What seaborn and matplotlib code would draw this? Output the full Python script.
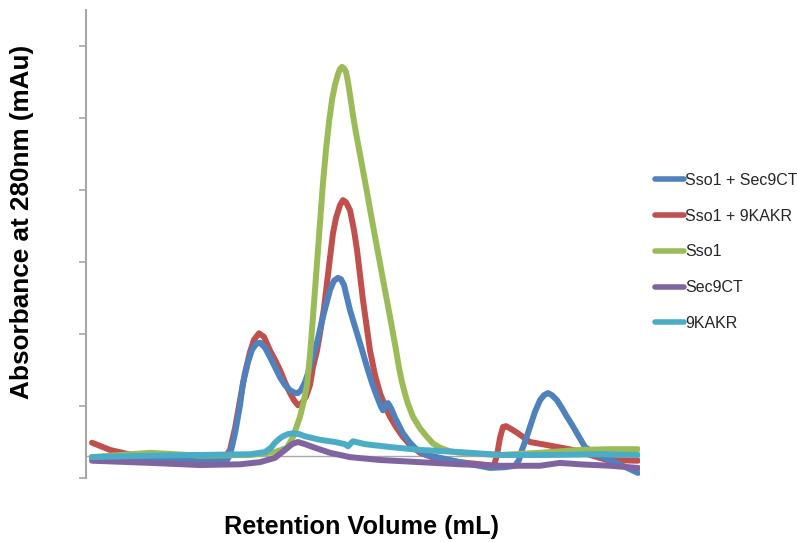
import numpy as np
import pandas as pd
import matplotlib
matplotlib.use("Agg")
import matplotlib.pyplot as plt
from matplotlib.lines import Line2D
import seaborn as sns

# ---- data (retention volume in mL, absorbance in mAu) ----
series_names = ["Sso1 + Sec9CT", "Sso1 + 9KAKR", "Sso1", "Sec9CT", "9KAKR"]

blue_x = [0.24, 2.56, 4.56, 5.36, 5.60, 5.76, 5.96, 6.16, 6.28, 6.48,
          6.64, 6.80, 6.96, 7.16, 7.36, 7.56, 7.76, 7.96, 8.16, 8.36,
          8.48, 8.60, 8.76, 8.96, 9.24, 9.48, 9.76, 9.92, 10.08, 10.20,
          10.32, 10.56, 10.84, 11.04, 11.24, 11.44, 11.64, 11.80, 11.88, 12.00,
          12.08, 12.20, 12.36, 12.68, 12.96, 13.24, 13.64, 14.04, 14.96, 15.56,
          16.16, 16.76, 17.16, 17.32, 17.44, 17.60, 17.76, 17.96, 18.16, 18.32,
          18.48, 18.64, 18.84, 19.04, 19.24, 19.44, 19.64, 19.96, 20.44, 21.16,
          22.08]
blue_y = [-1, -2, -4, -5, -8, 2, 32, 71, 102, 131,
          148, 156, 158, 151, 138, 124, 110, 99, 92, 88,
          88, 92, 103, 124, 158, 194, 231, 244, 248, 246,
          238, 203, 171, 148, 124, 102, 83, 69, 64, 73,
          74, 67, 54, 32, 19, 9, 2, -1, -8, -12,
          -16, -15, -13, -5, 9, 24, 41, 62, 78, 85,
          88, 85, 78, 67, 55, 44, 32, 13, 2, -8,
          -23]

red_x = [0.24, 0.96, 1.84, 3.36, 4.96, 5.36, 5.56, 5.76, 5.96, 6.16,
         6.36, 6.56, 6.72, 6.92, 7.12, 7.36, 7.56, 7.76, 7.96, 8.16,
         8.32, 8.48, 8.64, 8.80, 8.96, 9.08, 9.24, 9.36, 9.52, 9.64,
         9.76, 9.88, 10.00, 10.16, 10.28, 10.40, 10.56, 10.72, 10.84, 11.08,
         11.36, 11.56, 11.76, 11.96, 12.16, 12.40, 12.68, 12.96, 13.36, 14.16,
         14.96, 16.32, 16.44, 16.56, 16.68, 16.80, 16.96, 17.24, 17.76, 18.56,
         19.48, 20.16, 20.84, 22.08]
red_y = [19, 9, 2, -2, -6, -5, -1, 9, 39, 78,
         116, 145, 162, 171, 166, 147, 134, 120, 103, 88,
         78, 71, 74, 83, 99, 124, 147, 171, 206, 241,
         276, 310, 331, 349, 356, 353, 342, 314, 287, 217,
         147, 113, 88, 70, 55, 41, 27, 16, 5, -5,
         -8, -13, 2, 26, 41, 42, 39, 33, 20, 15,
         9, 2, -5, -6]

green_x = [0.24, 2.56, 4.56, 6.56, 7.56, 8.04, 8.28, 8.56, 8.72, 8.84,
           8.96, 9.08, 9.28, 9.48, 9.60, 9.72, 9.84, 9.96, 10.08, 10.16,
           10.24, 10.32, 10.40, 10.48, 10.56, 10.68, 10.80, 11.00, 11.24, 11.44,
           11.68, 11.92, 12.16, 12.40, 12.52, 12.64, 12.76, 12.88, 13.08, 13.36,
           13.64, 13.88, 14.16, 14.56, 14.96, 16.56, 18.16, 19.76, 20.96, 22.08]
green_y = [-1, 5, 1, 2, 6, 12, 27, 55, 78, 99,
           141, 194, 287, 380, 426, 464, 495, 516, 531, 538,
           541, 539, 534, 520, 502, 474, 449, 412, 367, 328,
           283, 238, 194, 148, 123, 103, 87, 73, 55, 39,
           27, 18, 12, 7, 5, 2, 5, 9, 10, 10]

purple_x = [0.24, 2.56, 4.56, 6.16, 6.96, 7.56, 7.96, 8.24, 8.48, 8.76,
            9.16, 9.76, 10.56, 11.76, 13.36, 14.96, 16.56, 18.16, 18.96, 19.76,
            20.96, 22.08]
purple_y = [-6, -9, -12, -11, -8, -2, 9, 17, 20, 17,
            12, 5, -1, -5, -8, -11, -13, -13, -9, -11,
            -13, -16]

cyan_x = [0.24, 2.56, 4.56, 6.56, 7.16, 7.40, 7.56, 7.72, 7.88, 8.08,
          8.28, 8.52, 8.76, 9.36, 9.96, 10.36, 10.48, 10.68, 11.16, 12.16,
          13.36, 14.96, 16.56, 18.56, 20.56, 22.08]
cyan_y = [-1, 1, 2, 3, 6, 12, 19, 24, 28, 31,
          32, 31, 28, 23, 20, 17, 14, 21, 17, 13,
          9, 6, 2, 2, 3, 2]

colors = ["#4F81BD", "#C0504D", "#9BBB59", "#8064A2", "#4BACC6"]

xs = [blue_x, red_x, green_x, purple_x, cyan_x]
ys = [blue_y, red_y, green_y, purple_y, cyan_y]

frames = []
for name, x, y in zip(series_names, xs, ys):
    frames.append(pd.DataFrame({"Retention Volume (mL)": x,
                                "Absorbance (mAu)": y,
                                "series": name}))
df = pd.concat(frames, ignore_index=True)

sns.set_style("white")
plt.rcParams["font.family"] = ["Liberation Sans", "DejaVu Sans"]

fig = plt.figure(figsize=(7.97, 5.42), dpi=100)
ax = fig.add_axes([86 / 797, 1 - 478 / 542, (640 - 86) / 797, (478 - 10) / 542])

ax.axhline(0, color="#A6A6A6", lw=1.0, zorder=1)

lw = 4.3
order_z = {"Sso1 + 9KAKR": 2, "Sso1 + Sec9CT": 3, "Sso1": 4, "Sec9CT": 5, "9KAKR": 6}
for name, col in zip(series_names, colors):
    sub = df[df["series"] == name]
    sns.lineplot(data=sub, x="Retention Volume (mL)", y="Absorbance (mAu)",
                 color=col, linewidth=lw, estimator=None, sort=False,
                 ax=ax, zorder=order_z[name],
                 solid_capstyle="round", solid_joinstyle="round")

ax.set_xlim(0, 22.16)
ax.set_ylim(-30, 620)
ax.set_yticks([-30, 70, 170, 270, 370, 470, 570])
ax.set_xticks([])
ax.tick_params(axis="y", direction="out", length=5, width=1.2,
               color="#A6A6A6", labelleft=False, left=True)
for s in ["top", "right", "bottom"]:
    ax.spines[s].set_visible(False)
ax.spines["left"].set_color("#A6A6A6")
ax.spines["left"].set_linewidth(1.5)

ax.set_xlabel("")
ax.set_ylabel("")
fig.text(362 / 797, 1 - 527 / 542, "Retention Volume (mL)", ha="center",
         va="center", fontsize=18.2, fontweight="bold", color="black")
fig.text(22 / 797, 1 - 222 / 542, "Absorbance at 280nm (mAu)", ha="center",
         va="center", rotation=90, fontsize=18.8, fontweight="bold", color="black")

handles = [Line2D([0], [0], color=c, lw=4.0, solid_capstyle="round") for c in colors]
fig.legend(handles, series_names, loc="center left",
           bbox_to_anchor=(655 / 797, 1 - 252 / 542), frameon=False,
           fontsize=11.5, handlelength=1.8, handletextpad=0.1,
           labelspacing=1.3, borderaxespad=0, borderpad=0)

fig.savefig("out.png", dpi=100)
